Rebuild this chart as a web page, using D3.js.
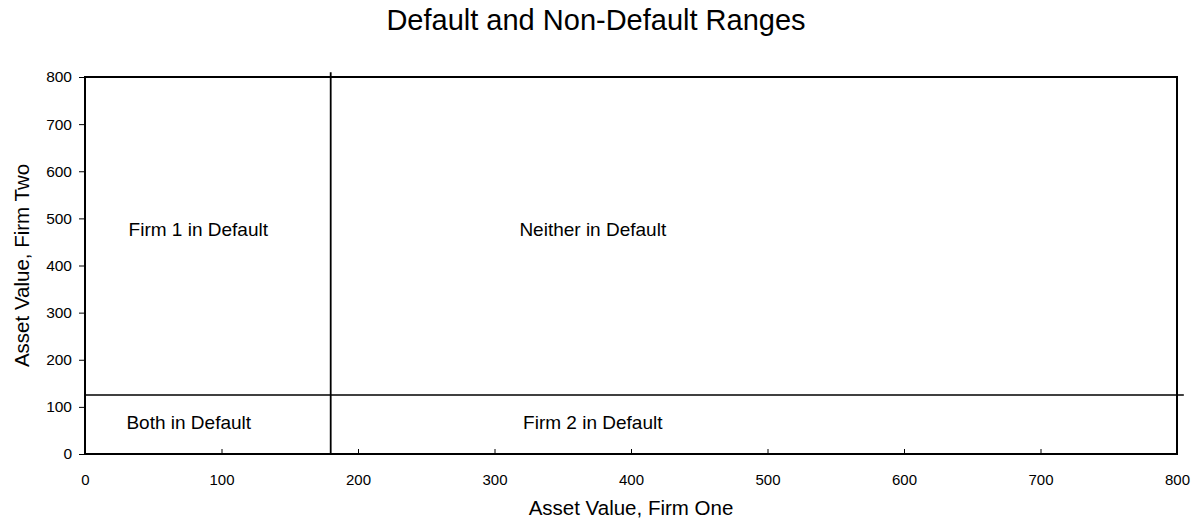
<!DOCTYPE html>
<html>
<head>
<meta charset="utf-8">
<script src="https://cdn.jsdelivr.net/npm/d3@7"></script>
<style>
  body { margin: 0; background: #fff; }
  svg { display: block; font-family: "Liberation Sans", Arial, sans-serif; }
  .axis path, .axis line { stroke: #000; }
  .axis text { fill: #000; font-size: 15px; }
</style>
</head>
<body>
<svg id="chart" width="1200" height="521"></svg>
<script>
// datos del gráfico
const xTicks = [0, 100, 200, 300, 400, 500, 600, 700, 800];
const yTicks = [0, 100, 200, 300, 400, 500, 600, 700, 800];
const defaultX = 180;   // umbral firma 1
const defaultY = 125;   // umbral firma 2
const vLine = [[defaultX, 0], [defaultX, 810]];
const hLine = [[0, defaultY], [805, defaultY]];
const regionNames = ["Firm 1 in Default", "Neither in Default", "Both in Default", "Firm 2 in Default"];
const regionX = [83, 372, 76, 372];
const regionY = [462, 462, 52, 52];

const margin = { top: 77, right: 23, bottom: 67, left: 85 };
const svg = d3.select("#chart");
const width = 1200 - margin.left - margin.right;
const height = 521 - margin.top - margin.bottom;
const g = svg.append("g").attr("transform", `translate(${margin.left},${margin.top})`);

const x = d3.scaleLinear().domain([0, 800]).range([0, width]);
const y = d3.scaleLinear().domain([0, 800]).range([height, 0]);

// título
svg.append("text")
  .attr("x", 596).attr("y", 30)
  .attr("text-anchor", "middle")
  .style("font-size", "29px")
  .text("Default and Non-Default Ranges");

// ejes
const xAxis = g.append("g").attr("class", "axis")
  .attr("transform", `translate(0,${height})`)
  .call(d3.axisBottom(x).tickValues(xTicks).tickSize(-5).tickPadding(20).tickSizeOuter(0));
xAxis.select(".domain").remove();

const yAxis = g.append("g").attr("class", "axis")
  .call(d3.axisLeft(y).tickValues(yTicks).tickSize(6).tickPadding(7).tickSizeOuter(0));
yAxis.select(".domain").remove();
yAxis.selectAll("text").style("font-size", "15.5px");

// marco del área
g.append("rect")
  .attr("x", 0).attr("y", 0)
  .attr("width", width).attr("height", height)
  .attr("fill", "none").attr("stroke", "#000").attr("stroke-width", 2);

// líneas de umbral
const line = d3.line().x(d => x(d[0])).y(d => y(d[1]));
g.append("path").datum(vLine).attr("d", line)
  .attr("stroke", "#000").attr("stroke-width", 1.8).attr("fill", "none");
g.append("path").datum(hLine).attr("d", line)
  .attr("stroke", "#000").attr("stroke-width", 1.5).attr("fill", "none");

// etiquetas de regiones
g.selectAll(".region").data(regionNames).enter().append("text")
  .attr("class", "region")
  .attr("x", (d, i) => x(regionX[i]))
  .attr("y", (d, i) => y(regionY[i]))
  .attr("text-anchor", "middle")
  .style("font-size", "19px")
  .text(d => d);

// títulos de ejes
svg.append("text")
  .attr("x", margin.left + width / 2).attr("y", 515)
  .attr("text-anchor", "middle")
  .style("font-size", "20.5px")
  .text("Asset Value, Firm One");

svg.append("text")
  .attr("transform", `translate(29,${margin.top + height / 2}) rotate(-90)`)
  .attr("text-anchor", "middle")
  .style("font-size", "20.5px")
  .text("Asset Value, Firm Two");
</script>
</body>
</html>
